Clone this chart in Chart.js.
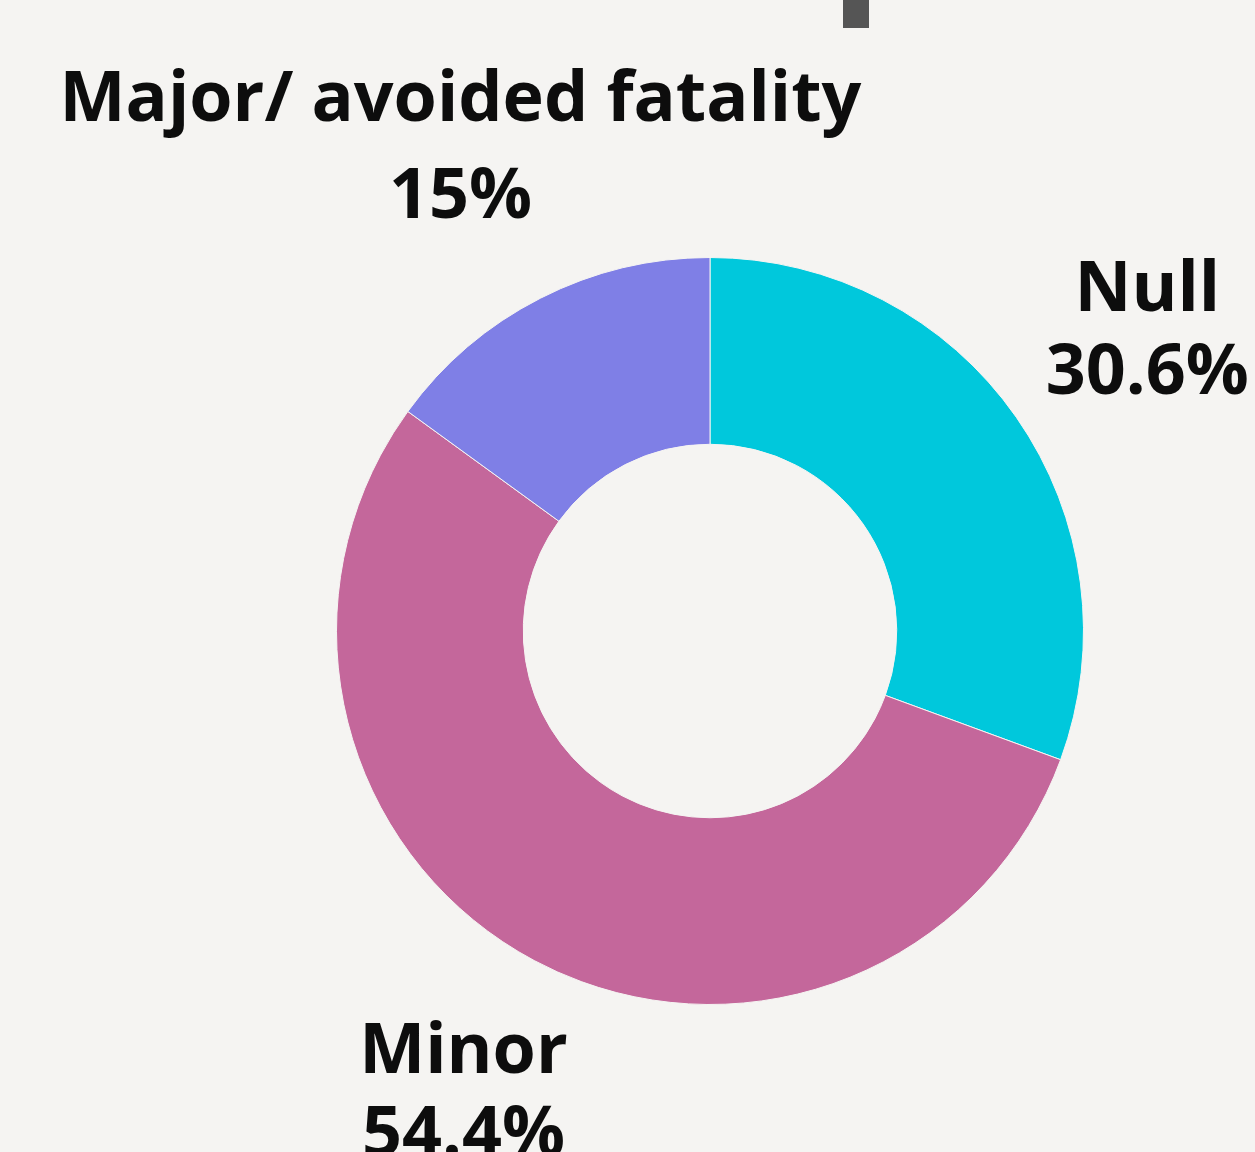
<!DOCTYPE html>
<html>
<head>
<meta charset="utf-8">
<script src="https://cdn.jsdelivr.net/npm/chart.js@4.4.1/dist/chart.umd.min.js"></script>
<style>
  html, body { margin: 0; padding: 0; background: #f5f4f2; }
  #wrap { width: 1255px; height: 1152px; position: relative; }
</style>
</head>
<body>
<div id="wrap"><canvas id="pieChart"></canvas></div>
<script>
var categories = ["Null", "Minor", "Major/ avoided fatality"];
var shares = [30.6, 54.4, 15];
var percentLabels = ["30.6%", "54.4%", "15%"];
var colours = ["#00c8dc", "#c4679b", "#7f7fe6"];

// where each label sits, relative to the ring centre, in outer radii
var labelSpots = [
    { dx: 1.171, dy: -0.91, gap: 83 },
    { dx: -0.66, dy: 1.13, gap: 83 },
    { dx: -0.668, dy: -1.42, gap: 97 }
];

var outsideLabels = {
    id: 'outsideLabels',
    afterDraw: function(chart) {
        var ctx = chart.ctx;
        var arcs = chart.getDatasetMeta(0).data;
        ctx.save();
        // stub of a cut-off heading above the chart
        ctx.fillStyle = "#555555";
        ctx.fillRect(843, 0, 26, 28);
        ctx.fillStyle = "#0d0d0d";
        ctx.textAlign = "center";
        ctx.textBaseline = "middle";
        ctx.font = "bold 70px 'Open Sans'";
        for (var i = 0; i < arcs.length; i++) {
            var a = arcs[i];
            var R = a.outerRadius;
            var x = a.x + labelSpots[i].dx * R;
            var y = a.y + labelSpots[i].dy * R;
            ctx.fillText(categories[i], x, y);
            ctx.fillText(percentLabels[i], x, y + labelSpots[i].gap);
        }
        ctx.restore();
    }
};

var CHART = document.getElementById("pieChart");
var pieChart = new Chart(CHART, {
    type: 'doughnut',
    data: {
        labels: categories,
        datasets: [{
            data: shares,
            backgroundColor: colours,
            borderColor: "#f5f4f2",
            borderWidth: 1
        }]
    },
    options: {
        responsive: true,
        maintainAspectRatio: false,
        animation: false,
        cutout: '50%',
        layout: { padding: { left: 336, right: 171, top: 257, bottom: 147 } },
        plugins: {
            legend: { display: false },
            tooltip: { enabled: false }
        }
    },
    plugins: [outsideLabels]
});
</script>
</body>
</html>
